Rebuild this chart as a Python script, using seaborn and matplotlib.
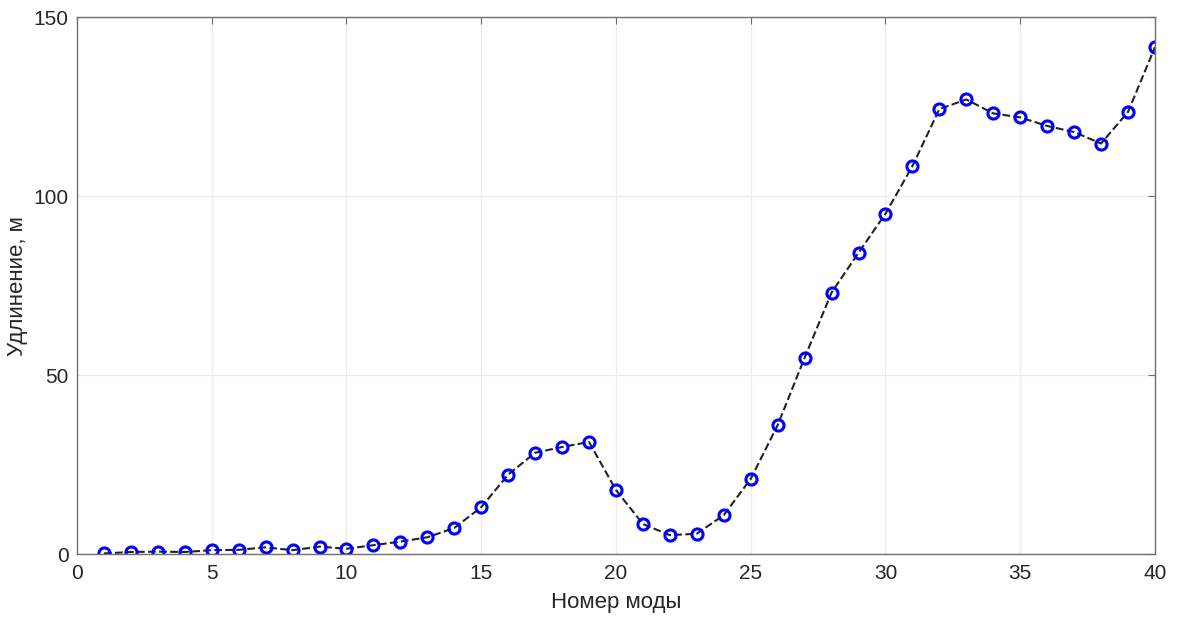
import numpy as np
import pandas as pd
import matplotlib
matplotlib.use("Agg")
import matplotlib.pyplot as plt
import seaborn as sns

# mode number and elongation (m)
modes = list(range(1, 41))
elongation = [0.3, 0.7, 0.8, 0.7, 1.2, 1.3, 2.0, 1.2, 2.2, 1.6,
              2.6, 3.6, 4.8, 7.4, 13.2, 22.3, 28.4, 30.0, 31.4, 18.0,
              8.5, 5.4, 5.8, 11.0, 21.1, 36.1, 54.9, 73.1, 84.2, 95.1,
              108.4, 124.3, 127.0, 123.1, 122.0, 119.6, 117.9, 114.7, 123.5, 141.6]
x_ticks = [0, 5, 10, 15, 20, 25, 30, 35, 40]
y_ticks = [0, 50, 100, 150]

df = pd.DataFrame({"mode": modes, "elong": elongation})

sns.set_style("white")
plt.rcParams['font.family'] = ['Liberation Sans', 'DejaVu Sans']

fig = plt.figure(figsize=(11.79, 6.17), dpi=100)
ax = fig.add_axes([0.0653, 0.1013, 0.9143, 0.8711])

sns.lineplot(data=df, x="mode", y="elong", ax=ax, color="#222222",
             linestyle="--", linewidth=1.5, dashes=False)
ax.plot(df["mode"], df["elong"], linestyle="none", marker="o",
        markersize=8, markerfacecolor="none", markeredgecolor="blue",
        markeredgewidth=2.2)

ax.set_xlim(0, 40)
ax.set_ylim(0, 150)
ax.set_xticks(x_ticks)
ax.set_yticks(y_ticks)
ax.grid(True, color="#ebebeb", linewidth=0.9)
ax.set_axisbelow(True)
for s in ax.spines.values():
    s.set_color("#707070")
    s.set_linewidth(1.0)
ax.tick_params(direction="in", length=5, width=0.8, colors="#707070",
               labelcolor="#262626", labelsize=15, top=True, right=True)
ax.tick_params(axis="x", pad=7)
ax.tick_params(axis="y", pad=6)
ax.set_xlabel("Номер моды", fontsize=16, color="#262626", labelpad=6)
ax.set_ylabel("Удлинение, м", fontsize=16, color="#262626")
ax.yaxis.set_label_coords(-0.045, 0.5)

fig.savefig("out.png", dpi=100)
